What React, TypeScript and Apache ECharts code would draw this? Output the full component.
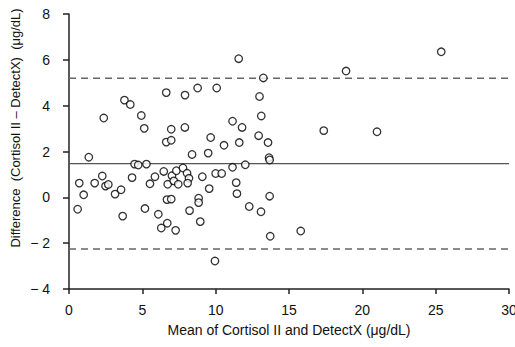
import React, { useEffect, useRef } from "react";
import * as echarts from "echarts";

const meanValues: number[] = [
  0.59, 0.70, 1.00, 1.35, 1.75, 2.27, 2.49, 2.68, 3.14, 3.55, 3.66, 4.30, 4.47, 4.72, 5.28, 5.18, 5.52, 5.86,
  6.09, 6.29, 6.46, 6.70, 6.73, 7.02, 7.14, 7.32, 7.45, 6.68, 6.97, 7.27, 7.77, 8.05, 8.18, 8.09, 8.22, 8.39,
  8.84, 8.84, 8.95, 9.09, 9.49, 9.56, 10.00, 10.41, 9.95, 6.63, 6.97, 9.66, 2.37, 3.78, 4.18, 4.93, 5.13, 6.63,
  6.97, 7.91, 7.90, 8.77, 10.07, 11.57, 13.25, 12.99, 13.11, 11.15, 11.80, 10.57, 11.61, 12.93, 13.57, 13.64,
  13.68, 11.15, 12.02, 11.40, 11.45, 13.68, 12.29, 13.09, 13.72, 15.80, 17.37, 21.00, 18.89, 25.38,
];
const diffValues: number[] = [
  -0.52, 0.62, 0.11, 1.75, 0.62, 0.93, 0.49, 0.56, 0.14, 0.33, -0.82, 0.86, 1.45, 1.41, 1.45, -0.49, 0.59, 0.90,
  -0.74, -1.34, 1.13, -1.13, 0.57, 0.94, 0.72, 1.16, 0.57, -0.10, -0.08, -1.44, 1.28, 1.05, 0.83, 0.62, -0.58, 1.87,
  -0.04, -0.23, -1.06, 0.90, 1.93, 0.38, 1.04, 1.04, -2.78, 2.41, 2.49, 2.61, 3.46, 4.24, 4.05, 3.57, 3.01, 4.57,
  2.97, 4.46, 3.05, 4.77, 4.77, 6.05, 5.21, 4.40, 3.55, 3.32, 3.05, 2.27, 2.39, 2.69, 2.39, 1.73,
  1.63, 1.31, 1.42, 0.64, 0.16, 0.05, -0.40, -0.63, -1.70, -1.47, 2.91, 2.86, 5.51, 6.35,
];
const meanBias = 1.47;
const upperLimit = 5.2;
const lowerLimit = -2.25;
const xRange = [0, 30];
const yRange = [-4, 8];

const xTitle = "Mean of Cortisol II and DetectX (\u03bcg/dL)";
const yTitle = "Difference  (Cortisol II \u2013 DetectX)  (\u03bcg/dL)";

export default function App() {
  const ref = useRef<HTMLDivElement>(null);
  useEffect(() => {
    if (!ref.current) return;
    const chart = echarts.init(ref.current, null, { renderer: "svg" });
    const font = "'Liberation Sans', Arial, sans-serif";
    const axisColor = "#222";
    const refLine = (v: number, dashed: boolean) => ({
      type: "line",
      data: [
        [xRange[0], v],
        [xRange[1], v],
      ],
      symbol: "none",
      silent: true,
      lineStyle: {
        color: dashed ? "#666" : "#555",
        width: dashed ? 1.5 : 1.2,
        type: dashed ? [7, 5] : "solid",
      },
      z: 1,
    });
    chart.setOption({
      animation: false,
      grid: { left: 69, right: 6, top: 14, bottom: 58, containLabel: false, outerBoundsMode: "none" },
      xAxis: {
        type: "value",
        min: xRange[0],
        max: xRange[1],
        interval: 5,
        splitLine: { show: false },
        axisLine: { onZero: false, lineStyle: { color: axisColor, width: 1.5 } },
        axisTick: { show: true, length: 5, lineStyle: { color: axisColor, width: 1.5 } },
        axisLabel: { color: "#111", fontSize: 14, fontFamily: font, margin: 14, showMaxLabel: true, hideOverlap: false },
        name: xTitle,
        nameLocation: "middle",
        nameGap: 34,
        nameTextStyle: { color: "#111", fontSize: 14, fontFamily: font },
      },
      yAxis: {
        type: "value",
        min: yRange[0],
        max: yRange[1],
        interval: 2,
        splitLine: { show: false },
        axisLine: { onZero: false, lineStyle: { color: axisColor, width: 1.5 } },
        axisTick: { show: true, length: 6, lineStyle: { color: axisColor, width: 1.5 } },
        axisLabel: {
          color: "#111",
          fontSize: 14,
          fontFamily: font,
          margin: 19,
          formatter: (v: number) => (v < 0 ? "\u2212 " + Math.abs(v) : String(v)),
        },
      },
      graphic: [
        {
          type: "text",
          x: 15,
          y: 128,
          rotation: Math.PI / 2,
          style: {
            text: yTitle,
            fill: "#111",
            font: `13px ${font}`,
            textAlign: "center",
            textVerticalAlign: "middle",
          },
        },
      ],
      series: [
        refLine(meanBias, false),
        refLine(upperLimit, true),
        refLine(lowerLimit, true),
        {
          type: "scatter",
          data: meanValues.map((m, i) => [m, diffValues[i]]),
          symbol: "circle",
          symbolSize: 7.5,
          itemStyle: { color: "#fff", borderColor: "#000", borderWidth: 1.3 },
          z: 3,
        },
      ],
    });
    return () => chart.dispose();
  }, []);
  return <div ref={ref} style={{ width: 515, height: 347, position: "absolute", left: 0, top: 0 }} />;
}
